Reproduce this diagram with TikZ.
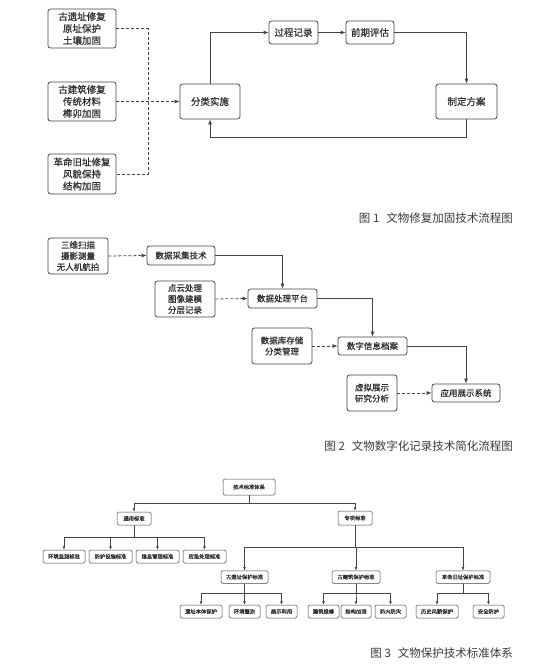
\documentclass[tikz,border=0pt]{standalone}
\usepackage{fontspec}
\setmainfont{Noto Sans CJK SC}
\newfontfamily\boxfont{Noto Sans CJK SC}[FakeBold=0.5]
\usetikzlibrary{arrows.meta,calc}
\definecolor{ln}{HTML}{444444}
\definecolor{tx}{HTML}{2E2E2E}
\definecolor{cap}{HTML}{3A3A3A}
\begin{document}
\begin{tikzpicture}[x=1pt,y=-1pt,
  boxa/.style={draw=ln, line width=0.8pt, rounded corners=2.5pt, fill=white, text=tx,
    font=\boxfont\fontsize{9.5}{12}\selectfont, align=center, inner sep=0pt},
  boxb/.style={draw=ln, line width=0.8pt, rounded corners=2.5pt, fill=white, text=tx,
    font=\boxfont\fontsize{8.5}{11}\selectfont, align=center, inner sep=0pt},
  boxc/.style={draw=ln, line width=0.5pt, rounded corners=1.5pt, fill=white, text=tx,
    font=\boxfont\fontsize{5.3}{6}\selectfont, align=center, inner sep=0pt, minimum height=13pt},
  arr/.style={draw=ln, line width=0.8pt, -{Latex[length=5pt,width=4pt]}},
  ln1/.style={draw=ln, line width=0.8pt},
  dsh/.style={dash pattern=on 3pt off 2pt},
  arrc/.style={draw=ln, line width=0.5pt, -{Latex[length=3.5pt,width=2.8pt]}},
  lnc/.style={draw=ln, line width=0.5pt},
  captxt/.style={text=cap, font=\fontsize{11.5}{13}\selectfont, anchor=east, inner sep=0pt}
]
\fill[white] (0,0) rectangle (540,668);
\useasboundingbox (0,0) rectangle (540,668);

% ---------- Figure 1 ----------
\node[boxa, minimum width=68pt, minimum height=39pt] (A) at (82,28.5) {古遗址修复\\原址保护\\土壤加固};
\node[boxa, minimum width=68pt, minimum height=39pt] (B) at (82,101.5) {古建筑修复\\传统材料\\榫卯加固};
\node[boxa, minimum width=68pt, minimum height=40pt] (C) at (82,174) {革命旧址修复\\风貌保持\\结构加固};
\node[boxa, minimum width=60pt, minimum height=35pt] (S) at (210,101.5) {分类实施};
\node[boxa, minimum width=49pt, minimum height=23pt] (R) at (293.5,32.5) {过程记录};
\node[boxa, minimum width=48pt, minimum height=23pt] (P) at (370,32.5) {前期评估};
\node[boxa, minimum width=61pt, minimum height=35pt] (F) at (466.5,101.5) {制定方案};
\coordinate (j1) at (148,0);
\coordinate (l1) at (0,137);
\draw[ln1,dsh] (A.east) -- (A.east -| j1) -- (C.east -| j1) -- (C.east);
\draw[arr,dsh] (B.east) -- (S.west);
\draw[arr] (S.north) |- (R.west);
\draw[arr] (R.east) -- (P.west);
\draw[arr] (P.east) -| (F.north);
\draw[arr] (F.south) -- (F.south |- l1) -| (S.south);
\node[captxt] (cap1) at (513,218) {图 1\hspace{0.6em}文物修复加固技术流程图};

% ---------- Figure 2 ----------
\node[boxb, minimum width=60pt, minimum height=36pt] (T1) at (78,256) {三维扫描\\摄影测量\\无人机航拍};
\node[boxb, minimum width=68pt, minimum height=19pt] (D1) at (181,255.5) {数据采集技术};
\node[boxb, minimum width=60pt, minimum height=36pt] (T2) at (185,299) {点云处理\\图像建模\\分层记录};
\node[boxb, minimum width=69pt, minimum height=19pt] (D2) at (282.5,298.5) {数据处理平台};
\node[boxb, minimum width=60pt, minimum height=36pt] (T3) at (282,346) {数据库存储\\分类管理};
\node[boxb, minimum width=69pt, minimum height=18pt] (D3) at (372.5,346) {数字信息档案};
\node[boxb, minimum width=50pt, minimum height=36pt] (T4) at (372,393) {虚拟展示\\研究分析};
\node[boxb, minimum width=68pt, minimum height=18pt] (D4) at (466,393) {应用展示系统};
\draw[arr,dsh] (T1.east) -- (D1.west);
\draw[arr] (D1.east) -| (D2.north);
\draw[arr,dsh] (T2.east) -- (D2.west);
\draw[arr] (D2.east) -| (D3.north);
\draw[arr,dsh] (T3.east) -- (D3.west);
\draw[arr] (D3.east) -| (D4.north);
\draw[arr,dsh] (T4.east) -- (D4.west);
\node[captxt] (cap2) at (513,446) {图 2\hspace{0.6em}文物数字化记录技术简化流程图};

% ---------- Figure 3 ----------
\node[boxc, minimum width=52pt, minimum height=16pt] (root) at (249,487) {技术标准体系};
\node[boxc, minimum width=34pt] (G) at (134,518.5) {通用标准};
\node[boxc, minimum width=34pt, minimum height=14pt] (Z) at (355,518) {专项标准};
\node[boxc, minimum width=42pt] (g1) at (64,556.5) {环境监测标准};
\node[boxc, minimum width=43pt] (g2) at (110.5,556.5) {防护设施标准};
\node[boxc, minimum width=43pt] (g3) at (157.5,556.5) {信息管理标准};
\node[boxc, minimum width=43pt] (g4) at (204.5,556.5) {应急处理标准};
\node[boxc, minimum width=47pt, minimum height=12.5pt] (Z1) at (244.5,577) {古遗址保护标准};
\node[boxc, minimum width=48pt, minimum height=12.5pt] (Z2) at (356,577) {古建筑保护标准};
\node[boxc, minimum width=54pt, minimum height=12.5pt] (Z3) at (463,577) {革命旧址保护标准};
\node[boxc, minimum width=42pt] (y1) at (201,611.5) {遗址本体保护};
\node[boxc, minimum width=31pt] (y2) at (244.5,611.5) {环境整治};
\node[boxc, minimum width=31pt] (y3) at (281.5,611.5) {展示利用};
\node[boxc, minimum width=31pt] (j1n) at (323.5,611.5) {建筑维修};
\node[boxc, minimum width=30pt] (j2n) at (356,611.5) {结构加固};
\node[boxc, minimum width=31pt] (j3n) at (390.5,611.5) {防火防灾};
\node[boxc, minimum width=42pt] (r1) at (437,611.5) {历史风貌保护};
\node[boxc, minimum width=31pt] (r2) at (488.5,611.5) {安全防护};
\coordinate (b1) at (0,503);
\coordinate (b2) at (0,537);
\coordinate (b3) at (0,547);
\coordinate (b4) at (0,593);
\foreach \c in {G,Z} \draw[arrc] (root.south) -- (root.south |- b1) -| (\c.north);
\foreach \c in {g1,g2,g3,g4} \draw[arrc] (G.south) -- (G.south |- b2) -| (\c.north);
\foreach \c in {Z1,Z2,Z3} \draw[arrc] (Z.south) -- (Z.south |- b3) -| (\c.north);
\foreach \c in {y1,y2,y3} \draw[arrc] (Z1.south) -- (Z1.south |- b4) -| (\c.north);
\foreach \c in {j1n,j2n,j3n} \draw[arrc] (Z2.south) -- (Z2.south |- b4) -| (\c.north);
\foreach \c in {r1,r2} \draw[arrc] (Z3.south) -- (Z3.south |- b4) -| (\c.north);
\node[captxt] (cap3) at (513,653) {图 3\hspace{0.6em}文物保护技术标准体系};
\end{tikzpicture}
\end{document}
